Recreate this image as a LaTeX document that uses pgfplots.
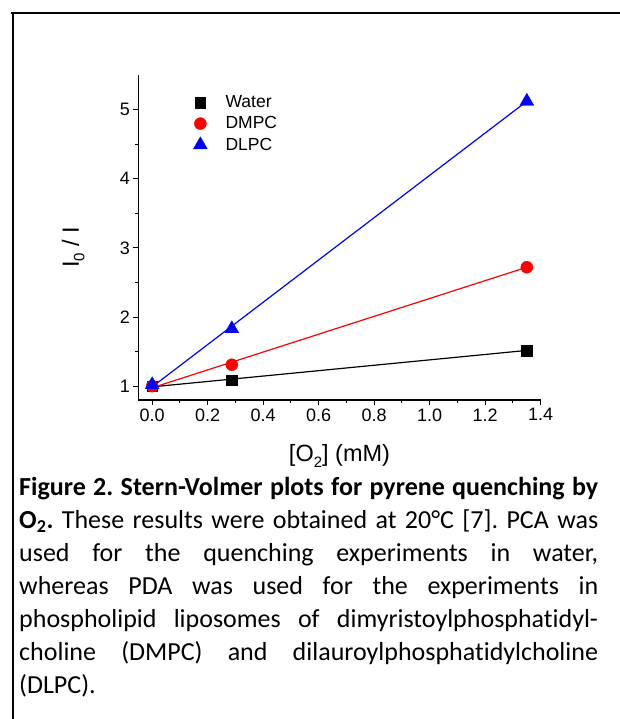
\documentclass[border=0pt]{standalone}
\usepackage{pgfplots}
\pgfplotsset{compat=1.18}
\usepackage{fontspec}
\setmainfont{Carlito}[Ligatures={NoCommon,NoContextual}]
\newfontfamily\arial{Liberation Sans}
\newcommand{\sub}[1]{\raisebox{-0.45ex}{\fontsize{15}{15}\selectfont #1}}
\pgfplotsset{mylegend/.style={legend image code/.code={\draw[##1,only marks] plot coordinates {(8pt,0pt)}; \path (0pt,0pt) (31pt,0pt);}}}
\begin{document}
\frenchspacing
\begin{tikzpicture}[x=1pt,y=1pt]
\useasboundingbox (0,0) rectangle (620,719);
\fill[white] (0,0) rectangle (620,719);
\draw[line width=2pt] (11,705.5) -- (620,705.5);
\draw[line width=2pt] (12.8,706.5) -- (12.8,0);
\begin{axis}[
  at={(138.3pt,319pt)}, anchor=south west,
  scale only axis, width=402.4pt, height=325pt,
  xmin=-0.05, xmax=1.4, ymin=0.8, ymax=5.5,
  axis x line*=bottom, axis y line*=left,
  axis line style={-, line width=1.1pt},
  xtick={0,0.2,0.4,0.6,0.8,1.0,1.2,1.4}, ytick={1,2,3,4,5},
  minor x tick num=1, minor y tick num=1,
  tick align=outside, major tick length=5pt, minor tick length=3pt,
  tick style={line width=1pt, black},
  /pgf/number format/assume math mode=true,
  x tick label style={/pgf/number format/.cd, fixed, fixed zerofill, precision=1},
  ticklabel style={font=\arial\fontsize{18}{18}\selectfont},
  xlabel={[O\sub{2}] (mM)},
  ylabel={I\sub{0} / I},
  xlabel style={font=\arial\fontsize{23.5}{23.5}\selectfont, at={(axis description cs:0.5,-0.172)}, anchor=center},
  ylabel style={font=\arial\fontsize{23.5}{23.5}\selectfont, at={(axis description cs:-0.162,0.47)}, anchor=center},
  legend style={draw=none, fill=none, at={(axis description cs:0.1334,0.943)}, anchor=north west,
    font=\arial\fontsize{17.5}{17.5}\selectfont, row sep=3.5pt, inner sep=0pt},
  legend cell align=left,
  clip=false,
]
\addplot[black, line width=1.2pt, forget plot] coordinates {(0,0.99) (1.35,1.517)};
\addplot[red, line width=1.2pt, forget plot] coordinates {(0,0.977) (1.35,2.72)};
\addplot[blue, line width=1.2pt, forget plot] coordinates {(0,0.99) (1.35,5.12)};
\addplot[only marks, mark=square*, mark size=5.3pt, black, mylegend] coordinates {(0,1.0) (0.287,1.087) (1.35,1.517)};
\addlegendentry{Water}
\addplot[only marks, mark=*, mark size=6pt, red, mylegend] coordinates {(0,1.0) (0.287,1.31) (1.35,2.72)};
\addlegendentry{DMPC}
\addplot[only marks, mark=triangle*, mark size=8pt, blue, mylegend] coordinates {(0,1.02) (0.287,1.83) (1.35,5.12)};
\addlegendentry{DLPC}
\end{axis}
\node[anchor=base west, inner sep=0pt] at (19,223.3) {\parbox[t]{579pt}{\fontsize{26}{33}\selectfont
\makebox[579pt][s]{\textbf{Figure 2. Stern-Volmer plots for pyrene quenching by}}\\
\makebox[579pt][s]{\textbf{O\textsubscript{2}.} These results were obtained at 20°C [7]. PCA was}\\
\makebox[579pt][s]{used for the quenching experiments in water,}\\
\makebox[579pt][s]{whereas PDA was used for the experiments in}\\
\makebox[579pt][s]{phospholipid liposomes of dimyristoylphosphatidyl-}\\
\makebox[579pt][s]{choline (DMPC) and dilauroylphosphatidylcholine}\\
(DLPC).}};
\end{tikzpicture}
\end{document}
